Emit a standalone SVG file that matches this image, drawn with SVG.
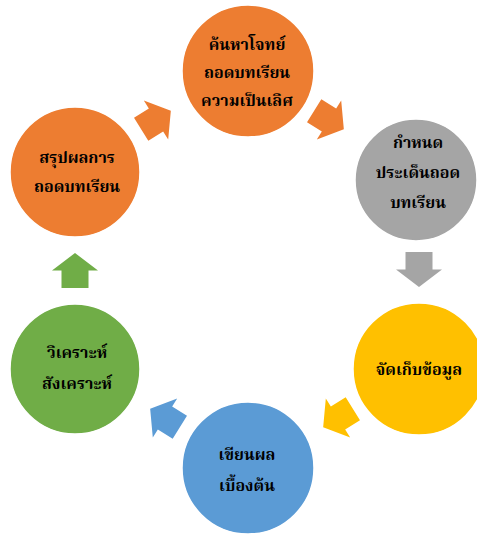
<svg xmlns="http://www.w3.org/2000/svg" width="477" height="535" viewBox="0 0 477 535">
  <style>
    .node { stroke: #ffffff; stroke-width: 1.5; }
    .label { font-family: "Noto Serif Thai", "Noto Sans Thai Looped", "Noto Sans Thai", "Noto Sans", "DejaVu Sans", sans-serif; font-size: 16px; font-weight: bold; fill: #000000; text-anchor: middle; }
    .orange { fill: #ED7D31; }
    .gray { fill: #A5A5A5; }
    .yellow { fill: #FFC000; }
    .blue { fill: #5B9BD5; }
    .green { fill: #70AD47; }
  </style>
  <defs>
    <!-- block arrow pointing right, centred on the origin -->
    <path id="blockArrow" d="M -17.5 -13.5 L 0 -13.5 L 0 -23 L 17.5 0 L 0 23 L 0 13.5 L -17.5 13.5 Z"/>
  </defs>

  <g id="connectors">
    <use href="#blockArrow" class="orange" transform="translate(156 120) rotate(-32)"/>
    <use href="#blockArrow" class="orange" transform="translate(329 120) rotate(32)"/>
    <use href="#blockArrow" class="gray" transform="translate(419 269.5) rotate(90)"/>
    <use href="#blockArrow" class="yellow" transform="translate(338 418) rotate(148)"/>
    <use href="#blockArrow" class="blue" transform="translate(165 418) rotate(-148)"/>
    <use href="#blockArrow" class="green" transform="translate(75 270.5) rotate(-90)"/>
  </g>

  <g id="node-find-topic">
    <circle class="node orange" cx="248" cy="71" r="66"/>
    <text class="label" x="247" y="50">ค้นหาโจทย์</text>
    <text class="label" x="247" y="78">ถอดบทเรียน</text>
    <text class="label" x="247" y="106">ความเป็นเลิศ</text>
  </g>

  <g id="node-set-issues">
    <circle class="node gray" cx="416" cy="180" r="61"/>
    <text class="label" x="418" y="148">กำหนด</text>
    <text class="label" x="418" y="178">ประเด็นถอด</text>
    <text class="label" x="418" y="208">บทเรียน</text>
  </g>

  <g id="node-collect-data">
    <circle class="node yellow" cx="419" cy="369" r="66"/>
    <text class="label" x="419" y="375">จัดเก็บข้อมูล</text>
  </g>

  <g id="node-draft">
    <circle class="node blue" cx="248" cy="468" r="66"/>
    <text class="label" x="247" y="460">เขียนผล</text>
    <text class="label" x="247" y="491">เบื้องต้น</text>
  </g>

  <g id="node-analyse">
    <circle class="node green" cx="75" cy="369" r="65"/>
    <text class="label" x="77" y="358">วิเคราะห์</text>
    <text class="label" x="77" y="389">สังเคราะห์</text>
  </g>

  <g id="node-summarise">
    <circle class="node orange" cx="75" cy="172" r="65"/>
    <text class="label" x="77" y="163">สรุปผลการ</text>
    <text class="label" x="77" y="192">ถอดบทเรียน</text>
  </g>
</svg>
